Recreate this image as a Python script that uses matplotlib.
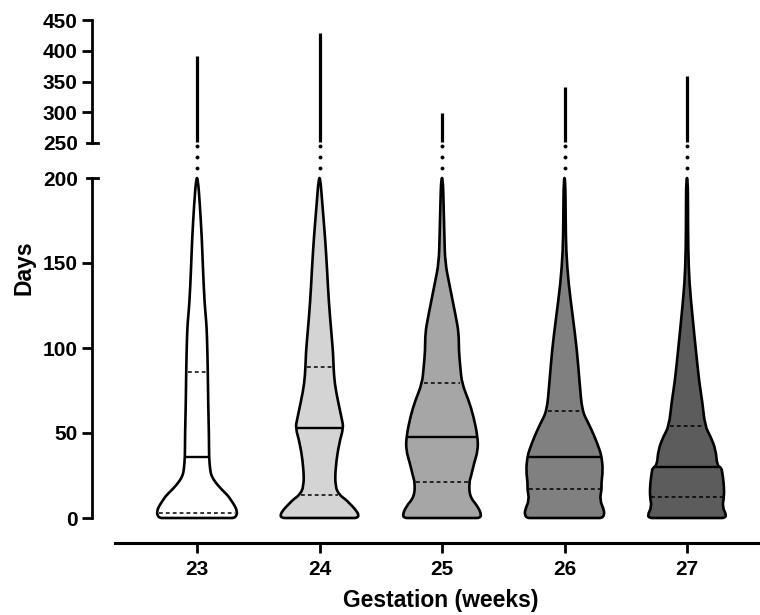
import numpy as np
import matplotlib
matplotlib.use('Agg')
import matplotlib.pyplot as plt
from matplotlib.path import Path
import matplotlib.patches as patches

plt.rcParams['font.family'] = ['Liberation Sans', 'DejaVu Sans']
plt.rcParams['font.weight'] = 'bold'

groups = ['23', '24', '25', '26', '27']
fills = ['#ffffff', '#d4d4d4', '#a6a6a6', '#808080', '#5c5c5c']

# violin outlines: day -> relative half width (1 = widest)
days_23 = [0, 1.5, 4, 7, 10.5, 13, 16, 19, 22, 25, 28, 36, 48, 67, 87, 107, 116, 126, 146, 165, 185, 200]
dens_23 = [0.93, 0.99, 1.00, 0.95, 0.85, 0.78, 0.65, 0.53, 0.43, 0.36, 0.33, 0.30, 0.30, 0.28, 0.27, 0.25, 0.23, 0.19, 0.15, 0.12, 0.07, 0.02]

days_24 = [0, 1.5, 5, 8.6, 11, 13.5, 18.5, 30, 44, 53, 58, 69, 79, 89, 97, 108, 128, 146, 165, 185, 200]
dens_24 = [0.93, 0.99, 0.90, 0.75, 0.65, 0.50, 0.39, 0.40, 0.49, 0.60, 0.56, 0.46, 0.38, 0.35, 0.34, 0.30, 0.23, 0.19, 0.14, 0.07, 0.02]

days_25 = [0, 1.5, 6.7, 12.6, 21, 24, 32, 40, 48, 59.6, 69, 79, 88, 99, 108.6, 118, 138, 150, 165, 185, 200]
dens_25 = [0.93, 0.99, 0.90, 0.69, 0.68, 0.72, 0.80, 0.90, 0.89, 0.79, 0.67, 0.50, 0.46, 0.42, 0.42, 0.35, 0.18, 0.08, 0.06, 0.04, 0.02]

days_26 = [0, 1.5, 4.7, 10.6, 17, 20.4, 28, 35.7, 40, 48, 55.7, 63, 79, 99, 118, 138, 157.6, 175, 200]
dens_26 = [0.93, 0.99, 0.99, 0.88, 0.93, 0.92, 0.96, 0.93, 0.88, 0.75, 0.60, 0.44, 0.38, 0.31, 0.21, 0.10, 0.04, 0.03, 0.02]

days_27 = [0, 1.5, 6.7, 12.6, 20.4, 27, 29.5, 31, 40, 48, 54, 69, 79, 99, 118, 138, 157.6, 180, 200]
dens_27 = [0.93, 0.99, 0.88, 0.93, 0.92, 0.88, 0.86, 0.75, 0.72, 0.59, 0.45, 0.38, 0.31, 0.22, 0.14, 0.06, 0.03, 0.025, 0.02]

profiles = [(days_23, dens_23), (days_24, dens_24), (days_25, dens_25),
            (days_26, dens_26), (days_27, dens_27)]

q1 = [3.1, 13.5, 21.0, 16.9, 12.6]
medians = [35.7, 52.7, 47.8, 35.7, 30.2]
q3 = [85.7, 89.0, 79.6, 63.0, 54.0]
maxima = [391, 429, 299, 341, 359]

# layout (pixels of a 760x615 canvas)
W, H = 760, 615
step = 122.5          # px between categories
x0 = 197              # px of first category
left_px = 92
half_max = 40 / step  # widest half width in data units
xlim = ((left_px - x0) / step, (W - x0) / step)


def smooth_outline(pts):
    # closed outline through the read points, corners rounded with quadratic curves
    n = len(pts)
    verts = [(pts[0] + pts[1]) / 2]
    codes = [Path.MOVETO]
    for k in range(1, n + 1):
        verts += [pts[k % n], (pts[k % n] + pts[(k + 1) % n]) / 2]
        codes += [Path.CURVE3, Path.CURVE3]
    verts.append(verts[0])
    codes.append(Path.CLOSEPOLY)
    return Path(verts, codes)


fig = plt.figure(figsize=(W / 100, H / 100), dpi=100)
ax = fig.add_axes([left_px / W, (H - 518) / H, (W - left_px) / W, (518 - 178) / H])
ax_top = fig.add_axes([left_px / W, (H - 143) / H, (W - left_px) / W, (143 - 20) / H])

pos = np.arange(len(groups))
for i, (d, w) in enumerate(profiles):
    d = np.array(d, dtype=float)
    hw = np.array(w) * half_max
    right = np.column_stack([pos[i] + hw, d])
    left = np.column_stack([pos[i] - hw, d])[::-1]
    # keep the base flat: two helper vertices on the bottom edge
    base = np.array([[pos[i] - 0.88 * hw[0], d[0]], [pos[i] + 0.88 * hw[0], d[0]]])
    outline = smooth_outline(np.vstack([base, right, left]))
    ax.add_patch(patches.PathPatch(outline, facecolor=fills[i], edgecolor='black',
                                   linewidth=1.9, joinstyle='round',
                                   clip_on=False, zorder=2))
    for q, ls, lw in [(q1[i], (0, (2.5, 2)), 1.1), (medians[i], '-', 1.7),
                      (q3[i], (0, (2.5, 2)), 1.1)]:
        hq = np.interp(q, d, w) * half_max - 0.012
        ax.plot([pos[i] - hq, pos[i] + hq], [q, q], color='black', lw=lw,
                linestyle=ls, zorder=3)
    # tail above the break
    ax_top.plot([pos[i], pos[i]], [252, maxima[i]], color='black', lw=2.3,
                solid_capstyle='butt')
    # dots across the gap
    ax.plot([pos[i]] * 3, [206, 212.5, 219], 'o', color='black', ms=2.8,
            mew=0, clip_on=False)

for a in (ax, ax_top):
    a.set_xlim(*xlim)
    a.spines['top'].set_visible(False)
    a.spines['right'].set_visible(False)
    a.spines['left'].set_linewidth(2.0)
    a.tick_params(axis='y', length=7.2, width=2.0, pad=3, labelsize=15)

ax.set_ylim(0, 200)
ax.set_yticks([0, 50, 100, 150, 200])
ax.spines['bottom'].set_position(('outward', 18))
ax.spines['bottom'].set_linewidth(2.2)
ax.spines['bottom'].set_bounds(-0.67, xlim[1])
ax.set_xticks(pos)
ax.set_xticklabels(groups)
ax.tick_params(axis='x', length=7.2, width=2.0, pad=5, labelsize=15)

ax_top.set_ylim(250, 450)
ax_top.set_yticks([250, 300, 350, 400, 450])
ax_top.spines['bottom'].set_visible(False)
ax_top.tick_params(axis='x', bottom=False, labelbottom=False)

# break ends: short bars across the spine at 200 and 250
bar = 5.5 / (W - left_px)
ax.yaxis.get_major_ticks()[-1].tick1line.set_visible(False)
ax_top.yaxis.get_major_ticks()[0].tick1line.set_visible(False)
ax.plot([-bar, bar], [200, 200], color='black', lw=2.0,
        transform=ax.get_yaxis_transform(), clip_on=False)
ax_top.plot([-bar, bar], [250, 250], color='black', lw=2.0,
            transform=ax_top.get_yaxis_transform(), clip_on=False)

fig.text(441 / W, 1 - 601 / H, 'Gestation (weeks)', ha='center', va='center',
         fontsize=16.5, fontweight='bold')
fig.text(24 / W, 1 - 268 / H, 'Days', ha='center', va='center', rotation=90,
         fontsize=16.5, fontweight='bold')

fig.savefig('out.png', dpi=100)
